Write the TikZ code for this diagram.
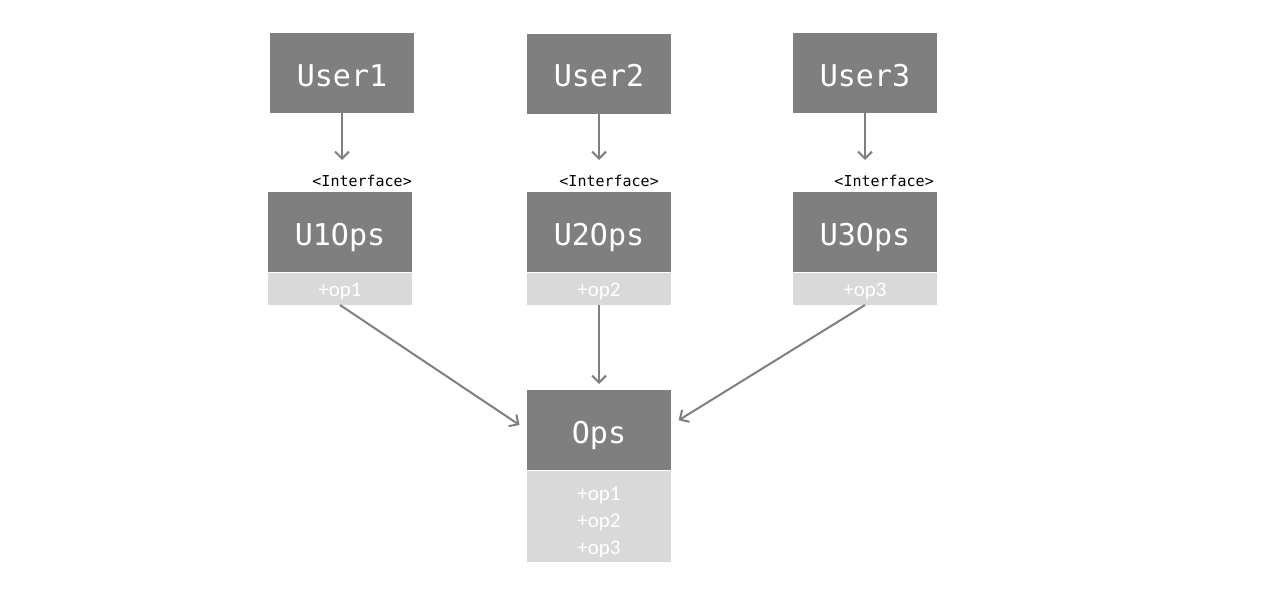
\documentclass[tikz,border=0pt]{standalone}
\usepackage{fontspec}
\setmonofont{DejaVu Sans Mono}
\setsansfont{Carlito}
\usetikzlibrary{arrows.meta}
\definecolor{boxgray}{HTML}{7F7F7F}
\definecolor{stripgray}{HTML}{D9D9D9}
\definecolor{linegray}{HTML}{7F7F7F}
\tikzstyle{cls}=[fill=boxgray,draw=none,text=white,minimum width=144pt,minimum height=80pt,inner sep=0pt,outer sep=0pt,text height=26pt,text depth=0pt,font=\ttfamily\fontsize{30}{34}\selectfont]
\tikzstyle{ops}=[fill=stripgray,draw=none,text=white,minimum width=144pt,inner sep=0pt,outer sep=0pt,align=center,font=\sffamily\fontsize{21}{27}\selectfont]
\tikzstyle{strip}=[ops,minimum height=32pt,text height=18pt]
\tikzstyle{iface}=[inner sep=0pt,anchor=base east,font=\ttfamily\fontsize{15}{17}\selectfont]
\tikzstyle{arr}=[draw=linegray,line width=2pt,-{Straight Barb[length=7pt,width=14pt]}]

\begin{document}
\begin{tikzpicture}[x=1pt,y=-1pt]
	\useasboundingbox (0,0) rectangle (1280,589);
	% users
	\node [style=cls] (user1) at (342, 73) {User1};
	\node [style=cls] (user2) at (599, 73.5) {User2};
	\node [style=cls] (user3) at (865, 73) {User3};
	\coordinate (tip1) at (342, 160);
	\coordinate (tip2) at (599, 160);
	\coordinate (tip3) at (865, 160);
	% interfaces
	\node [style=iface] (if1) at (412, 186) {<Interface>};
	\node [style=iface] (if2) at (659, 186) {<Interface>};
	\node [style=iface] (if3) at (934, 186) {<Interface>};
	\node [style=cls] (u1ops) at (340, 232) {U1Ops};
	\node [style=cls] (u2ops) at (599, 232) {U2Ops};
	\node [style=cls] (u3ops) at (865, 232) {U3Ops};
	\node [style=strip] (u1list) at (340, 289) {+op1};
	\node [style=strip] (u2list) at (599, 289) {+op2};
	\node [style=strip] (u3list) at (865, 289) {+op3};
	% implementation
	\node [style=cls] (ops) at (599, 430) {Ops};
	\node [style=ops,minimum height=91pt] (opslist) at (599, 516.5) {\rule{0pt}{25pt}+op1\\+op2\\+op3};
	% arrows
	\draw [style=arr] (user1) -- (tip1);
	\draw [style=arr] (user2) -- (tip2);
	\draw [style=arr] (user3) -- (tip3);
	\draw [style=arr,shorten >=9pt] (u1list.south) -- (ops.west);
	\draw [style=arr,shorten >=6pt] (u2list.south) -- (ops.north);
	\draw [style=arr,shorten >=9pt] (u3list.south) -- ([yshift=5pt]ops.east);
\end{tikzpicture}
\end{document}
